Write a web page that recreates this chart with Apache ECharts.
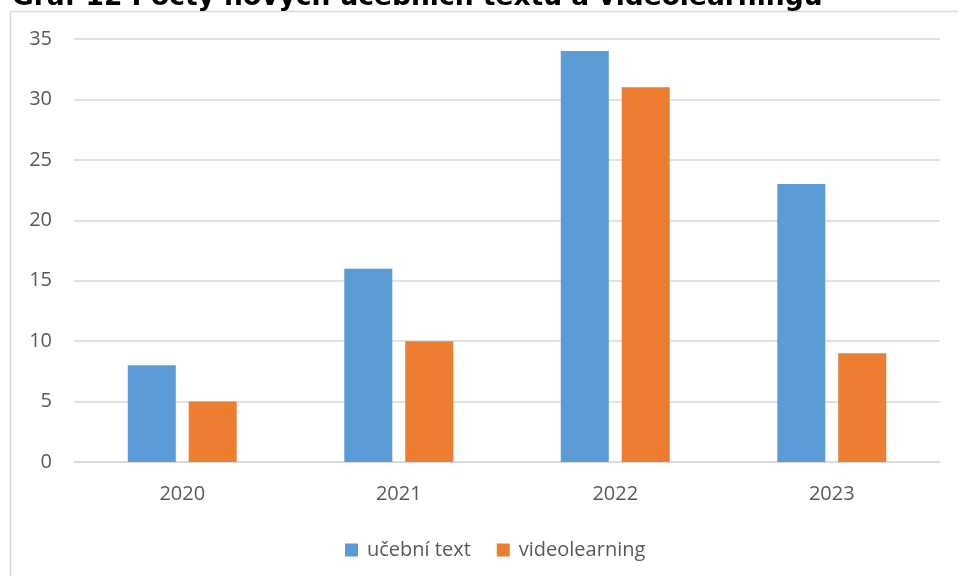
<!DOCTYPE html>
<html>
<head>
<meta charset="utf-8">
<script src="https://cdn.jsdelivr.net/npm/echarts@6/dist/echarts.min.js"></script>
<style>
  html, body { margin: 0; padding: 0; background: #fff; }
  #chart { width: 958px; height: 576px; }
</style>
</head>
<body>
<div id="chart"></div>
<script>
  // data
  const years = ['2020', '2021', '2022', '2023']
  const textCounts = [8, 16, 34, 23]
  const videoCounts = [5, 10, 31, 9]
  const seriesNames = ['učební text', 'videolearning']
  const titleText = 'Graf 12 Počty nových učebních textů a videolearningu'

  const font = '"Open Sans", "Noto Sans", sans-serif'
  const chart = echarts.init(document.getElementById('chart'))

  chart.setOption({
    animation: false,
    textStyle: { fontFamily: font },
    graphic: [
      // frame of the chart area
      {
        type: 'rect',
        shape: { x: 10.5, y: 11.5, width: 960, height: 600 },
        style: { fill: 'none', stroke: '#d9d9d9', lineWidth: 1.5 },
        z: -1
      },
      // title, cut at the top as in the source
      {
        type: 'text',
        x: 12,
        y: -2,
        style: {
          text: titleText,
          font: 'bold 26.5px "DejaVu Sans"',
          fill: '#000',
          verticalAlign: 'middle'
        }
      }
    ],
    grid: { left: 74, right: 18, top: 39, bottom: 114 },
    legend: {
      top: 535,
      left: 340,
      itemWidth: 13,
      itemHeight: 13,
      itemGap: 26,
      icon: 'rect',
      textStyle: { color: '#595959', fontSize: 20, fontFamily: font, padding: [0, 0, 0, 4] },
      data: seriesNames
    },
    xAxis: {
      type: 'category',
      data: years,
      axisLine: { lineStyle: { color: '#d9d9d9', width: 1.5 } },
      axisTick: { show: false },
      axisLabel: { color: '#595959', fontSize: 20, margin: 22 }
    },
    yAxis: {
      type: 'value',
      min: 0,
      max: 35,
      interval: 5,
      axisLine: { show: false },
      axisTick: { show: false },
      axisLabel: { color: '#595959', fontSize: 20, margin: 22 },
      splitLine: { lineStyle: { color: '#d9d9d9', width: 1.5 } }
    },
    series: [
      {
        name: seriesNames[0],
        type: 'bar',
        data: textCounts,
        barWidth: 48,
        barGap: '27%',
        itemStyle: { color: '#5b9bd5' }
      },
      {
        name: seriesNames[1],
        type: 'bar',
        data: videoCounts,
        barWidth: 48,
        itemStyle: { color: '#ed7d31' }
      }
    ]
  })
</script>
</body>
</html>
